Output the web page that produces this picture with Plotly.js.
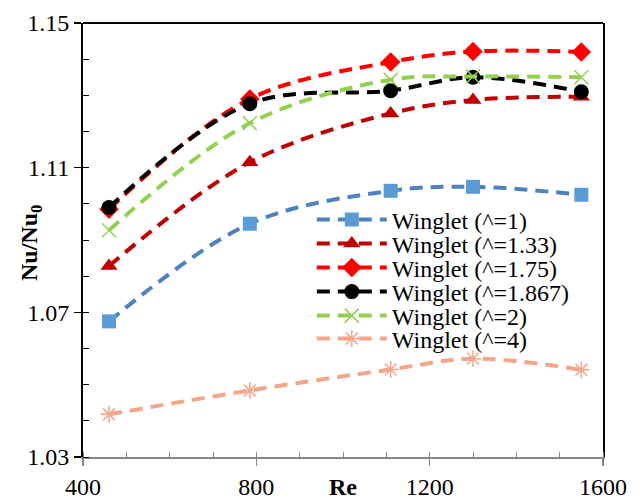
<!DOCTYPE html>
<html>
<head>
<meta charset="utf-8">
<script src="https://cdn.plot.ly/plotly-3.0.1.min.js"></script>
<style>html,body{margin:0;padding:0;background:#fff;}#chart{width:643px;height:500px;}</style>
</head>
<body>
<div id="chart"></div>
<script>
// Reynolds numbers
const re = [460, 785, 1110, 1300, 1550];
// Nu/Nu0 for each winglet
const winglet1    = [1.0675, 1.0945, 1.1036, 1.1047, 1.1025];
const winglet133  = [1.0828, 1.1115, 1.1250, 1.1287, 1.1296];
const winglet175  = [1.0985, 1.1290, 1.1392, 1.1421, 1.1420];
const winglet1867 = [1.0990, 1.1277, 1.1313, 1.1350, 1.1310];
const winglet2    = [1.0927, 1.1223, 1.1343, 1.1352, 1.1350];
const winglet4    = [1.0418, 1.0484, 1.0542, 1.0572, 1.0541];
const seriesNames = ['Winglet (^=1)', 'Winglet (^=1.33)', 'Winglet (^=1.75)',
                     'Winglet (^=1.867)', 'Winglet (^=2)', 'Winglet (^=4)'];
const yTickVals = [1.03, 1.07, 1.11, 1.15];
const xTickVals = [400, 800, 1200, 1600];

const FONT = 'Liberation Serif';
const series = [winglet1, winglet133, winglet175, winglet1867, winglet2, winglet4];
const styles = [
  {line:'#4F81BD', mcolor:'#5B9BD5', symbol:'square', size:14, mline:0},
  {line:'#C00000', mcolor:'#C00000', symbol:'triangle-up', size:15, mline:0},
  {line:'#FF0000', mcolor:'#FF0000', symbol:'diamond', size:15, mline:0},
  {line:'#000000', mcolor:'#000000', symbol:'circle', size:15, mline:0},
  {line:'#92D050', mcolor:'#92D050', symbol:'x-thin-open', size:14, mline:1.5},
  {line:'#F4A58A', mcolor:'#F4A58A', symbol:'asterisk-open', size:14, mline:1.5}
];
const legendIds = ['legend','legend2','legend3','legend4','legend5','legend6'];
const rowY = [220, 244, 268, 292, 316, 339];

const traces = series.map((ys, i) => ({
  x: re, y: ys, type: 'scatter', mode: 'lines+markers', name: seriesNames[i],
  legend: legendIds[i],
  line: {color: styles[i].line, width: 4, dash: '13px,8px', shape: 'spline', smoothing: 1},
  marker: {color: styles[i].mcolor, symbol: styles[i].symbol, size: styles[i].size,
           line: {color: styles[i].mcolor, width: styles[i].mline}}
}));

const layout = {
  width: 643, height: 500,
  margin: {l: 83, r: 40, t: 23, b: 43},
  paper_bgcolor: '#fff', plot_bgcolor: '#fff',
  font: {family: FONT, size: 24, color: '#000'},
  xaxis: {
    range: [400, 1600], tickvals: xTickVals, showgrid: false, zeroline: false,
    showline: true, linecolor: '#888', linewidth: 2,
    ticks: 'outside', ticklen: 7, tickcolor: '#888', tickwidth: 1.5,
    minor: {dtick: 100, tick0: 400, ticks: 'inside', ticklen: 5, tickcolor: '#888', tickwidth: 1, showgrid: false},
    tickfont: {family: FONT, size: 24, color: '#000'}
  },
  yaxis: {
    range: [1.03, 1.15], tickvals: yTickVals, tickformat: '.2f', showgrid: false, zeroline: false,
    showline: true, linecolor: '#000', linewidth: 2, mirror: true,
    ticks: 'outside', ticklen: 7, tickcolor: '#000', tickwidth: 1.5,
    minor: {dtick: 0.01, tick0: 1.03, ticks: 'inside', ticklen: 6, tickcolor: '#000', tickwidth: 1, showgrid: false},
    tickfont: {family: FONT, size: 24, color: '#000'}
  },
  shapes: [{type: 'line', xref: 'paper', yref: 'paper', x0: 0, x1: 1, y0: 1, y1: 1,
            line: {color: '#000', width: 2}}],
  annotations: [
    {text: '<b>Re</b>', xref: 'paper', yref: 'paper', x: 0.5, y: -0.07, xanchor: 'center', yanchor: 'middle',
     showarrow: false, font: {family: FONT, size: 24, color: '#000'}},
    {text: '<b>Nu/Nu<sub>0</sub></b>', xref: 'paper', yref: 'paper', x: -0.1, y: 0.493, xanchor: 'center', yanchor: 'middle',
     textangle: -90, showarrow: false, font: {family: FONT, size: 24, color: '#000'}}
  ],
  showlegend: true
};
legendIds.forEach((id, i) => {
  layout[id] = {
    x: 0.44, y: (457 - rowY[i]) / 434, xanchor: 'left', yanchor: 'middle',
    bgcolor: 'rgba(0,0,0,0)', borderwidth: 0, itemwidth: 70, tracegroupgap: 0,
    font: {family: FONT, size: 24, color: '#000'}
  };
});

Plotly.newPlot('chart', traces, layout, {displayModeBar: false, staticPlot: true});
</script>
</body>
</html>
